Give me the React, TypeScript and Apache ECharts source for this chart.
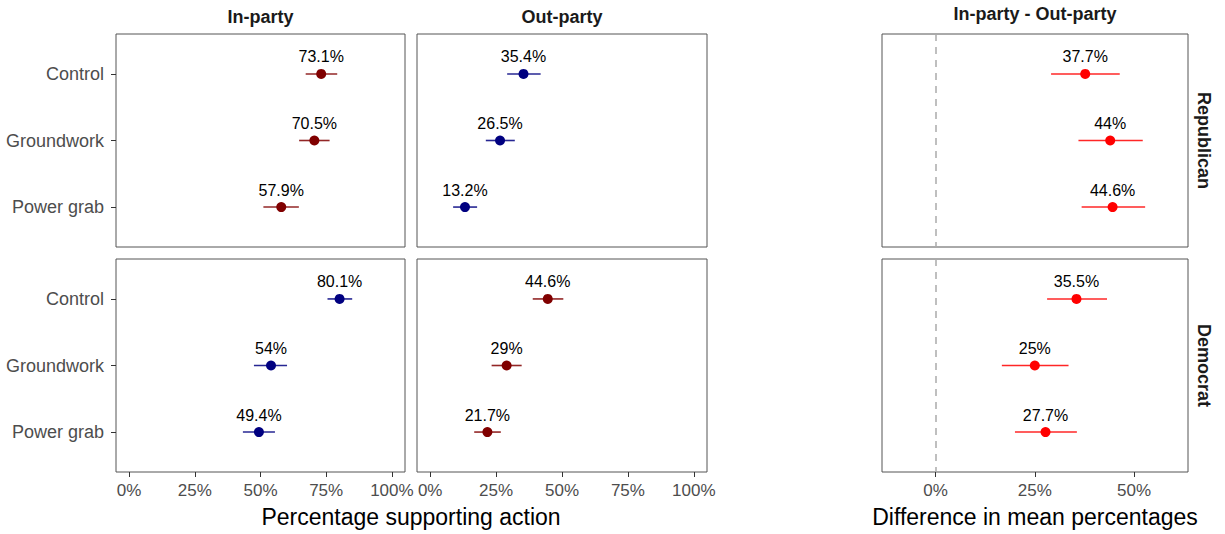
import React, { useEffect, useRef } from "react";
import * as echarts from "echarts";

const categories = ["Control", "Groundwork", "Power grab"];

const repIn = [73.1, 70.5, 57.9];
const repInLo = [67.2, 64.7, 51.1];
const repInHi = [79.2, 76.3, 64.6];

const repOut = [35.4, 26.5, 13.2];
const repOutLo = [29.2, 21.1, 8.7];
const repOutHi = [41.9, 32.1, 17.8];

const repDiff = [37.7, 44, 44.6];
const repDiffLo = [29.1, 36.0, 36.8];
const repDiffHi = [46.4, 52.2, 52.8];

const demIn = [80.1, 54, 49.4];
const demInLo = [75.5, 47.5, 43.3];
const demInHi = [84.9, 60.1, 55.5];

const demOut = [44.6, 29, 21.7];
const demOutLo = [38.9, 23.3, 16.7];
const demOutHi = [50.5, 34.7, 26.8];

const demDiff = [35.5, 25, 27.7];
const demDiffLo = [28.1, 16.7, 20.0];
const demDiffHi = [43.2, 33.5, 35.6];

const pctTicks = [0, 25, 50, 75, 100];
const diffTicks = [0, 25, 50];

const FONT = "Liberation Sans, Arial, sans-serif";
const DARKRED = "#800000";
const NAVY = "#000080";
const RED = "#FF0000";

export default function App() {
  const ref = useRef<HTMLDivElement>(null);
  useEffect(() => {
    if (!ref.current) return;
    const chart = echarts.init(ref.current, undefined, { renderer: "svg" });

    const grids = [
      { left: 116, top: 34, width: 289, height: 213 },
      { left: 417, top: 34, width: 290, height: 213 },
      { left: 882, top: 34, width: 306, height: 213 },
      { left: 116, top: 259, width: 289, height: 213 },
      { left: 417, top: 259, width: 290, height: 213 },
      { left: 882, top: 259, width: 306, height: 213 },
    ].map((g) => ({ ...g, show: true, borderColor: "#555", borderWidth: 1, backgroundColor: "#fff" }));

    const isDiff = (gi: number) => gi === 2 || gi === 5;

    const xAxes = grids.map((_, gi) => ({
      type: "value",
      gridIndex: gi,
      position: "bottom",
      min: isDiff(gi) ? -13.5 : -5,
      max: isDiff(gi) ? 63.6 : 105,
      splitLine: { show: false },
      axisLine: { show: false, onZero: false },
      axisTick: {
        show: gi >= 3,
        customValues: isDiff(gi) ? diffTicks : pctTicks,
        length: 5,
        lineStyle: { color: "#333", width: 1 },
      },
      axisLabel: {
        show: gi >= 3,
        customValues: isDiff(gi) ? diffTicks : pctTicks,
        formatter: (v: number) => `${v}%`,
        margin: 10,
        color: "#4d4d4d",
        fontSize: 17,
        fontFamily: FONT,
      },
    }));

    const yAxes = grids.map((_, gi) => ({
      type: "value",
      gridIndex: gi,
      position: "left",
      min: -0.6,
      max: 2.6,
      inverse: true,
      splitLine: { show: false },
      axisLine: { show: false, onZero: false },
      axisTick: {
        show: gi === 0 || gi === 3,
        customValues: [0, 1, 2],
        length: 5,
        lineStyle: { color: "#333", width: 1 },
      },
      axisLabel: {
        show: gi === 0 || gi === 3,
        customValues: [0, 1, 2],
        formatter: (v: number) => categories[Math.round(v)] ?? "",
        margin: 12,
        color: "#4d4d4d",
        fontSize: 18,
        fontFamily: FONT,
      },
    }));

    const makeSeries = (gi: number, vals: number[], lo: number[], hi: number[], color: string) => {
      const s: any[] = [
        {
          type: "custom",
          xAxisIndex: gi,
          yAxisIndex: gi,
          data: vals.map((_, i) => [lo[i], hi[i], i]),
          encode: { x: [0, 1], y: 2 },
          renderItem: (_p: any, api: any) => {
            const a = api.coord([api.value(0), api.value(2)]);
            const b = api.coord([api.value(1), api.value(2)]);
            return {
              type: "line",
              shape: { x1: a[0], y1: a[1], x2: b[0], y2: b[1] },
              style: { stroke: color, lineWidth: 1.6, opacity: 0.85 },
            };
          },
          z: 2,
        },
        {
          type: "scatter",
          xAxisIndex: gi,
          yAxisIndex: gi,
          data: vals.map((v, i) => [v, i]),
          symbolSize: 10,
          itemStyle: { color, opacity: 1 },
          label: {
            show: true,
            position: "top",
            distance: 4,
            formatter: (p: any) => `${p.value[0]}%`,
            color: "#000",
            fontSize: 16,
            fontFamily: FONT,
          },
          z: 3,
        },
      ];
      if (isDiff(gi)) {
        s[1].markLine = {
          silent: true,
          symbol: "none",
          label: { show: false },
          lineStyle: { color: "#aaa", type: [7, 6], width: 1.5 },
          data: [{ xAxis: 0 }],
        };
      }
      return s;
    };

    const series = [
      ...makeSeries(0, repIn, repInLo, repInHi, DARKRED),
      ...makeSeries(1, repOut, repOutLo, repOutHi, NAVY),
      ...makeSeries(2, repDiff, repDiffLo, repDiffHi, RED),
      ...makeSeries(3, demIn, demInLo, demInHi, NAVY),
      ...makeSeries(4, demOut, demOutLo, demOutHi, DARKRED),
      ...makeSeries(5, demDiff, demDiffLo, demDiffHi, RED),
    ];

    const txt = (text: string, x: number, y: number, opts: any = {}) => ({
      type: "text",
      x,
      y,
      rotation: opts.rotation ?? 0,
      style: {
        text,
        fill: opts.fill ?? "#1a1a1a",
        fontSize: opts.fontSize ?? 18,
        fontWeight: opts.fontWeight ?? "bold",
        fontFamily: FONT,
        textAlign: "center",
        textVerticalAlign: "middle",
      },
    });

    chart.setOption({
      animation: false,
      backgroundColor: "#fff",
      grid: grids,
      xAxis: xAxes,
      yAxis: yAxes,
      series,
      graphic: [
        txt("In-party", 260.5, 16.5),
        txt("Out-party", 562, 16.5),
        txt("In-party - Out-party", 1035, 14),
        txt("Republican", 1204, 140.5, { rotation: -Math.PI / 2 }),
        txt("Democrat", 1204, 365.5, { rotation: -Math.PI / 2 }),
        txt("Percentage supporting action", 411, 517, { fontSize: 23, fontWeight: "normal", fill: "#000" }),
        txt("Difference in mean percentages", 1035, 517, { fontSize: 23, fontWeight: "normal", fill: "#000" }),
      ],
    });
    return () => chart.dispose();
  }, []);
  return (
    <div
      ref={ref}
      style={{ position: "fixed", left: 0, top: 0, width: 1225, height: 534, background: "#fff" }}
    />
  );
}
